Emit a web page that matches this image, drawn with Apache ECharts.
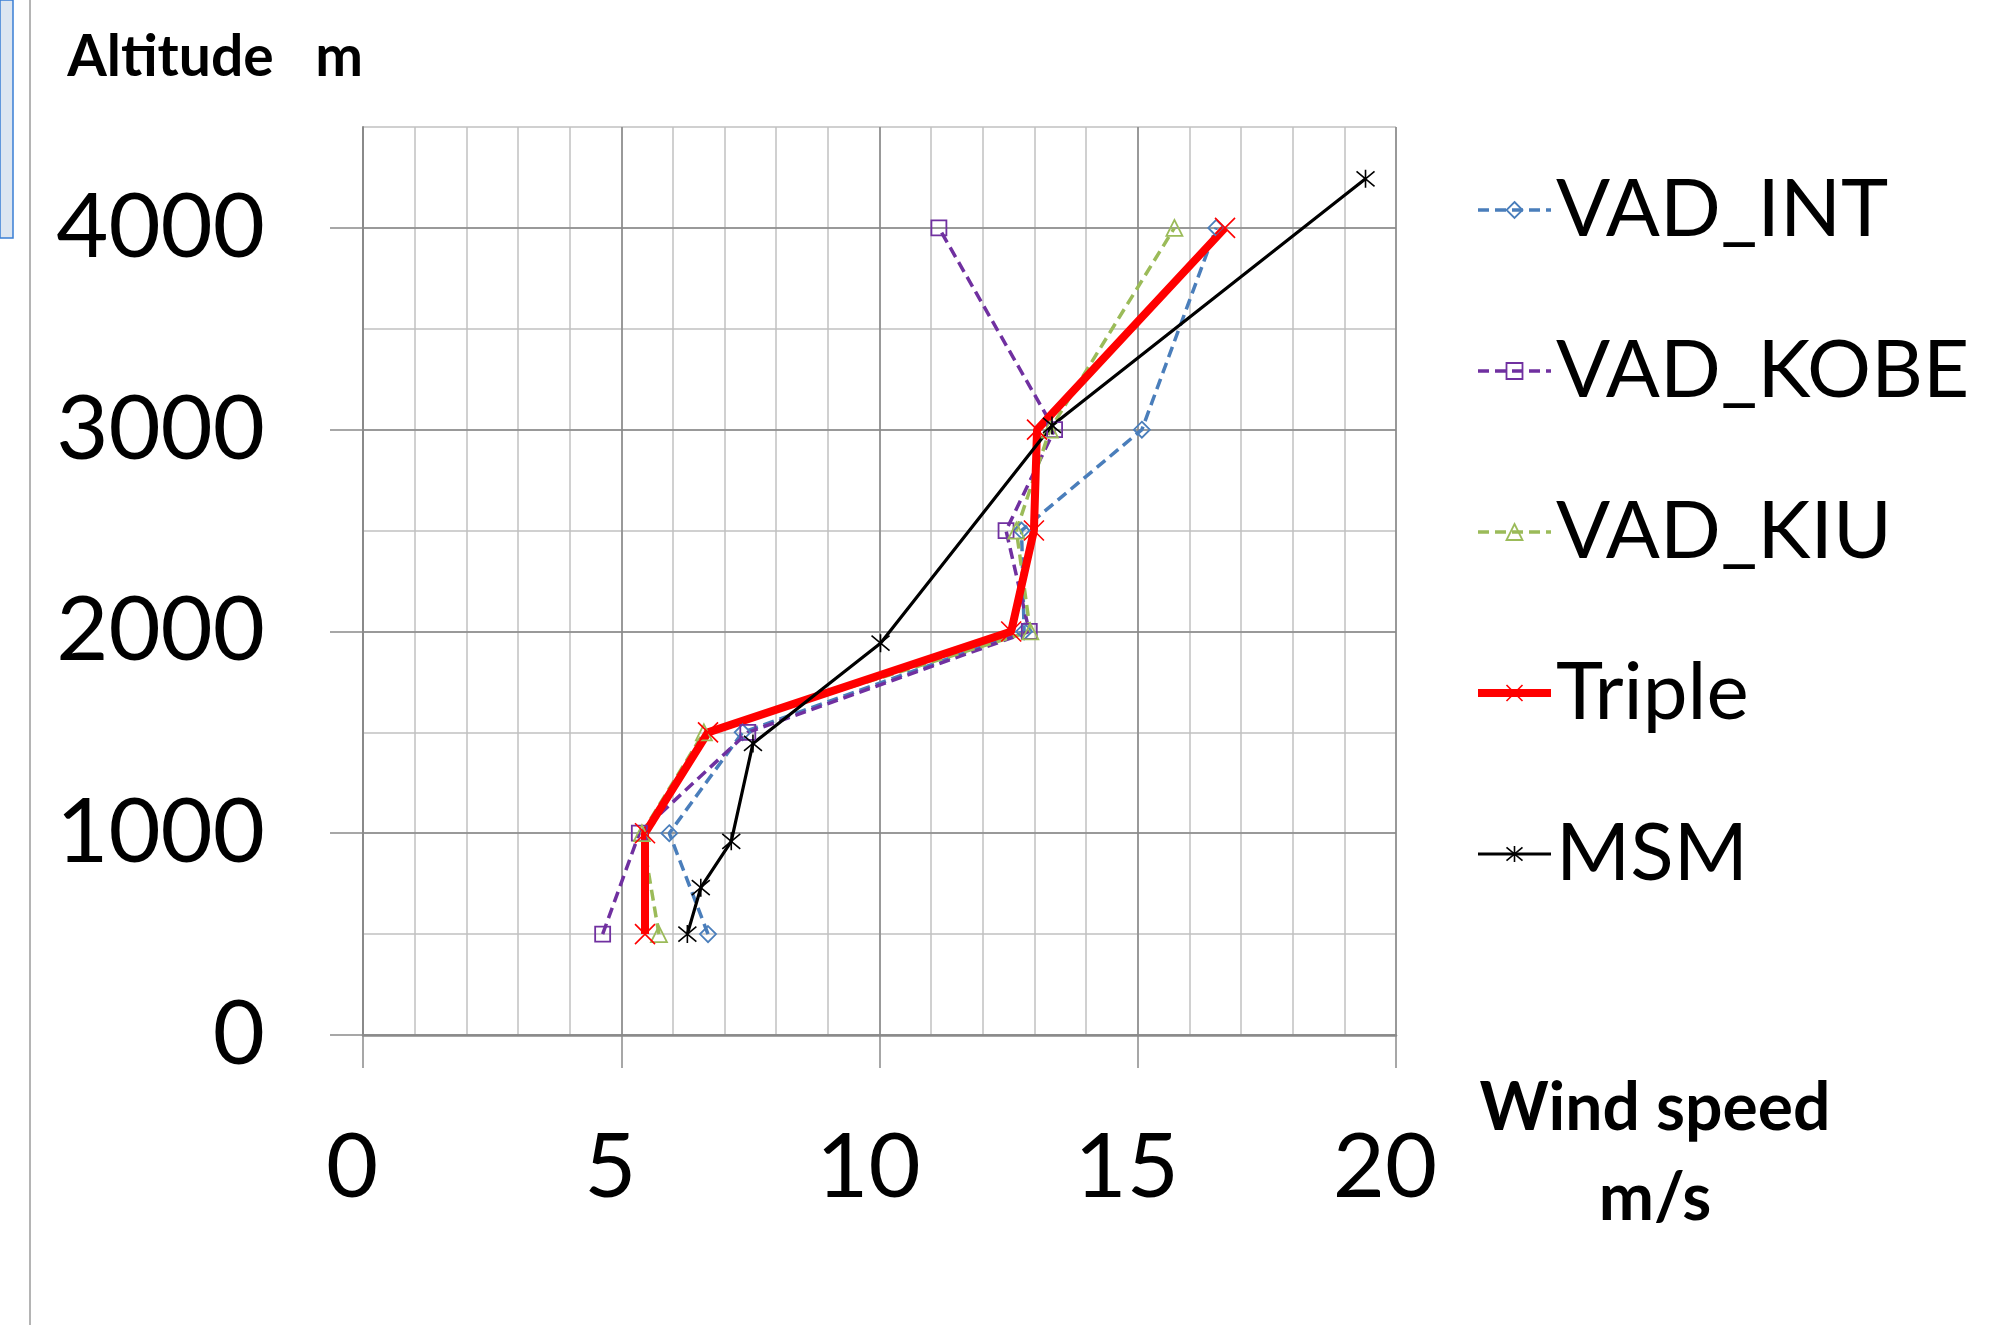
<!DOCTYPE html>
<html><head><meta charset="utf-8">
<script src="https://cdn.jsdelivr.net/npm/echarts@6/dist/echarts.min.js"></script>
<style>html,body{margin:0;padding:0;background:#fff}#c{width:2006px;height:1325px}</style>
</head><body><div id="c"></div>
<script>
// ---- data ----
const vadAltitudes = [500, 1000, 1500, 2000, 2500, 3000, 4000];
const vadIntSpeed  = [6.68, 5.93, 7.35, 12.80, 12.75, 15.08, 16.52];
const vadKobeSpeed = [4.64, 5.35, 7.45, 12.90, 12.45, 13.39, 11.15];
const vadKiuSpeed  = [5.73, 5.40, 6.60, 12.92, 12.65, 13.30, 15.71];
const tripleSpeed  = [5.46, 5.46, 6.68, 12.55, 12.99, 13.05, 16.69];
const msmAltitudes = [500, 730, 960, 1445, 1942, 3021, 4243];
const msmSpeed     = [6.28, 6.54, 7.13, 7.55, 10.02, 13.34, 19.41];
const xTickLabels = [0, 5, 10, 15, 20];
const yTickLabels = [0, 1000, 2000, 3000, 4000];
const seriesNames = ['VAD_INT', 'VAD_KOBE', 'VAD_KIU', 'Triple', 'MSM'];

const pairs = (speeds, alts) => speeds.map((s, i) => [s, alts[i]]);

const FONT = 'Lato';
const GRID_DARK = '#878787', GRID_LIGHT = '#c0c0c0', AXIS = '#8a8a8a';
const X_PATH = 'path://M0,0L10,10M10,0L0,10';
const STAR_PATH = 'path://M0,0L10,10M10,0L0,10M5,-1L5,11';

function mk(name, speeds, alts, color, dashed, width, symbol, size, bw) {
  return {
    type: 'line', name: name, data: pairs(speeds, alts),
    xAxisIndex: 1, yAxisIndex: 1,
    symbol: symbol, symbolSize: size, showSymbol: true, z: 3,
    lineStyle: { color: color, width: width, type: dashed ? [11, 6] : 'solid' },
    itemStyle: { color: 'none', borderColor: color, borderWidth: bw },
    emphasis: { disabled: true }
  };
}

const hidden = { show: false };
const chart = echarts.init(document.getElementById('c'), null, { renderer: 'canvas' });
chart.setOption({
  animation: false,
  backgroundColor: '#fff',
  grid: { left: 363, right: 610, top: 127, bottom: 290, containLabel: false, outerBoundsMode: 'none' },
  graphic: [
    { type: 'rect', shape: { x: 0, y: 0, width: 13, height: 238 }, style: { fill: '#dde6f1', stroke: '#3a7fd5', lineWidth: 1.5 } },
    { type: 'line', shape: { x1: 30, y1: 0, x2: 30, y2: 1325 }, style: { stroke: '#b4b4b4', lineWidth: 2 } }
  ],
  xAxis: [
    { // minor grid (every 1 m/s)
      type: 'value', position: 'bottom', min: 0, max: 20, interval: 1, z: 0,
      axisLine: hidden, axisTick: hidden, axisLabel: hidden,
      splitLine: { show: true, lineStyle: { color: GRID_LIGHT, width: 1.5 } }
    },
    { // main axis
      type: 'value', position: 'bottom', min: 0, max: 20, interval: 5, z: 1,
      name: 'Wind speed\nm/s', nameLocation: 'end', nameGap: 259,
      nameTextStyle: { fontFamily: FONT, fontWeight: 'bold', fontSize: 66, color: '#000', align: 'center', verticalAlign: 'top', lineHeight: 90, padding: [29, 0, 0, 0] },
      axisLine: { show: true, onZero: false, lineStyle: { color: AXIS, width: 2.5 } },
      axisTick: { show: true, inside: false, length: 33, customValues: xTickLabels, lineStyle: { color: AXIS, width: 1.5 } },
      axisLabel: { customValues: xTickLabels, fontFamily: FONT, fontSize: 90, color: '#000', margin: 88, padding: [0, 22, 0, 0], formatter: v => String(v) },
      splitLine: { show: true, lineStyle: { color: GRID_DARK, width: 1.5 } }
    }
  ],
  yAxis: [
    { // minor grid (every 500 m)
      type: 'value', position: 'left', min: 0, max: 4500, interval: 500, z: 0,
      axisLine: hidden, axisTick: hidden, axisLabel: hidden,
      splitLine: { show: true, lineStyle: { color: GRID_LIGHT, width: 1.5 } }
    },
    { // main axis
      type: 'value', position: 'left', min: 0, max: 4500, interval: 1000, z: 1,
      name: 'Altitude   m', nameLocation: 'end', nameGap: 69,
      nameTextStyle: { fontFamily: FONT, fontWeight: 'bold', fontSize: 57, color: '#000', align: 'right', verticalAlign: 'middle' },
      axisLine: { show: true, onZero: false, lineStyle: { color: AXIS, width: 2 } },
      axisTick: { show: true, inside: false, length: 33, customValues: yTickLabels, lineStyle: { color: AXIS, width: 1.5 } },
      axisLabel: { customValues: yTickLabels, fontFamily: FONT, fontSize: 90, color: '#000', margin: 98, formatter: v => String(v) },
      splitLine: { show: true, lineStyle: { color: GRID_DARK, width: 1.5 } }
    }
  ],
  legend: {
    orient: 'vertical', left: 1469, top: 164, itemWidth: 73, itemHeight: 20, itemGap: 79,
    selectedMode: false, data: seriesNames,
    lineStyle: { width: 'inherit' },
    itemStyle: { borderWidth: 'inherit' },
    textStyle: { fontFamily: FONT, fontSize: 80, color: '#000', lineHeight: 82 }
  },
  series: [
    mk(seriesNames[0], vadIntSpeed, vadAltitudes, '#4a7ebb', true, 3.5, 'diamond', 16, 1.8),
    mk(seriesNames[1], vadKobeSpeed, vadAltitudes, '#7030a0', true, 3.5, 'rect', 15, 1.8),
    mk(seriesNames[2], vadKiuSpeed, vadAltitudes, '#9bbb59', true, 3.5, 'triangle', 16, 1.8),
    mk(seriesNames[3], tripleSpeed, vadAltitudes, '#ff0000', false, 8, X_PATH, 20, 1.6),
    mk(seriesNames[4], msmSpeed, msmAltitudes, '#000000', false, 3.2, STAR_PATH, 18, 1.6)
  ]
});
</script>
</body></html>
